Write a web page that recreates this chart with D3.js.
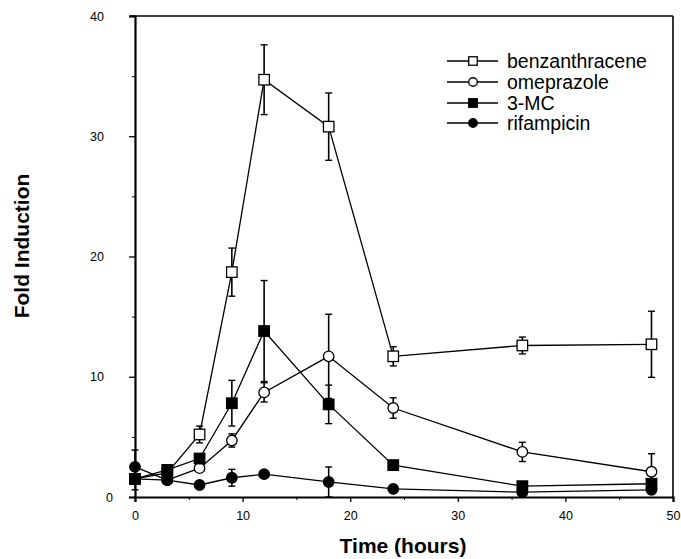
<!DOCTYPE html>
<html>
<head>
<meta charset="utf-8">
<script src="https://cdn.jsdelivr.net/npm/d3@7/dist/d3.min.js"></script>
<style>
  html, body { margin: 0; padding: 0; background: #fff; }
  svg { display: block; }
  text { font-family: "Liberation Sans", Arial, Helvetica, sans-serif; fill: #000; }
</style>
</head>
<body>
<svg id="chart" width="681" height="559"></svg>
<script>
// ---- data ----
const times = [0, 3, 6, 9, 12, 18, 24, 36, 48];

const benzanthracene    = [1.5, 2.0, 5.2, 18.7, 34.7, 30.8, 11.7, 12.6, 12.7];
const benzanthraceneErr = [0, 0.3, 0.7, 2.0, 2.9, 2.8, 0.8, 0.7, 2.75];

const omeprazole    = [1.5, 1.4, 2.4, 4.7, 8.7, 11.7, 7.4, 3.75, 2.1];
const omeprazoleErr = [0, 0.2, 0.3, 0.55, 0.8, 3.5, 0.85, 0.8, 1.5];

const mc3    = [1.5, 2.25, 3.2, 7.8, 13.8, 7.7, 2.65, 0.9, 1.1];
const mc3Err = [0.9, 0.3, 0.4, 1.9, 4.2, 1.6, 0.3, 0.2, 0.2];

const rifampicin    = [2.5, 1.4, 1.0, 1.6, 1.9, 1.25, 0.67, 0.4, 0.6];
const rifampicinErr = [1.4, 0.2, 0.2, 0.7, 0.2, 1.25, 0.2, 0.2, 0.2];

const seriesNames = ["benzanthracene", "omeprazole", "3-MC", "rifampicin"];
const xTicks = [0, 10, 20, 30, 40, 50];
const xMinorTicks = [5, 15, 25, 35, 45];
const yTicks = [0, 10, 20, 30, 40];
const yMinorTicks = [5, 15, 25, 35];

// ---- setup ----
const series = [
  { name: seriesNames[0], values: benzanthracene, err: benzanthraceneErr, shape: "square", fill: "#fff" },
  { name: seriesNames[1], values: omeprazole, err: omeprazoleErr, shape: "circle", fill: "#fff" },
  { name: seriesNames[2], values: mc3, err: mc3Err, shape: "square", fill: "#000" },
  { name: seriesNames[3], values: rifampicin, err: rifampicinErr, shape: "circle", fill: "#000" }
];

const svg = d3.select("#chart");
const L = 135, R = 673, T = 16, B = 497;

const x = d3.scaleLinear().domain([0, 50]).range([L, R]);
const y = d3.scaleLinear().domain([0, 40]).range([B, T]);

// frame top/right
svg.append("line").attr("x1", L - 5).attr("x2", R).attr("y1", T).attr("y2", T)
  .attr("stroke", "#000").attr("stroke-width", 1.6);
svg.append("line").attr("x1", R).attr("x2", R).attr("y1", T).attr("y2", B)
  .attr("stroke", "#000").attr("stroke-width", 1.6);

// y axis
const yAxisG = svg.append("g").attr("transform", `translate(${L},0)`)
  .call(d3.axisLeft(y).tickValues(yTicks).tickSize(6).tickPadding(25).tickFormat(d3.format("d")));
yAxisG.select(".domain").attr("stroke-width", 2.2);
yAxisG.selectAll(".tick line").attr("stroke-width", 1.3);
yAxisG.selectAll(".tick text").style("font-size", "12.5px")
  .attr("font-family", "Liberation Sans, Arial, sans-serif")
  .attr("x", d => d === 0 ? -22 : -31);
svg.append("g").attr("transform", `translate(${L},0)`)
  .call(d3.axisLeft(y).tickValues(yMinorTicks).tickSize(3).tickFormat(""))
  .call(g => g.select(".domain").remove());

// x axis
const xAxisG = svg.append("g").attr("transform", `translate(0,${B})`)
  .call(d3.axisBottom(x).tickValues(xTicks).tickSize(5).tickPadding(9).tickFormat(d3.format("d")));
xAxisG.select(".domain").attr("stroke-width", 2.2);
xAxisG.selectAll(".tick line").attr("stroke-width", 1.3);
xAxisG.selectAll(".tick text").style("font-size", "12.5px")
  .attr("font-family", "Liberation Sans, Arial, sans-serif");
svg.append("g").attr("transform", `translate(0,${B})`)
  .call(d3.axisBottom(x).tickValues(xMinorTicks).tickSize(3).tickFormat(""))
  .call(g => g.select(".domain").remove());

// axis titles
svg.append("text").attr("transform", "translate(29,246) rotate(-90)")
  .attr("text-anchor", "middle").style("font-size", "21px").style("font-weight", "bold")
  .text("Fold  Induction");
svg.append("text").attr("x", 403).attr("y", 553)
  .attr("text-anchor", "middle").style("font-size", "21px").style("font-weight", "bold")
  .text("Time (hours)");

// series
const line = d3.line().x((d, i) => x(times[i])).y(d => y(d));
const capW = 3.5;

function drawMarker(g, shape, fill, cx, cy, size) {
  if (shape === "square") {
    g.append("rect").attr("x", cx - size / 2).attr("y", cy - size / 2)
      .attr("width", size).attr("height", size)
      .attr("fill", fill).attr("stroke", "#000").attr("stroke-width", 1.3);
  } else {
    g.append("circle").attr("cx", cx).attr("cy", cy).attr("r", size / 2)
      .attr("fill", fill).attr("stroke", "#000").attr("stroke-width", 1.3);
  }
}

series.forEach(s => {
  const g = svg.append("g");
  // error bars
  s.values.forEach((v, i) => {
    const e = s.err[i];
    if (e <= 0) return;
    const cx = x(times[i]);
    const y1 = y(v + e), y2 = y(Math.max(0, v - e));
    g.append("line").attr("x1", cx).attr("x2", cx).attr("y1", y1).attr("y2", y2)
      .attr("stroke", "#000").attr("stroke-width", 1.6);
    [y1, y2].forEach(yy => g.append("line")
      .attr("x1", cx - capW).attr("x2", cx + capW).attr("y1", yy).attr("y2", yy)
      .attr("stroke", "#000").attr("stroke-width", 1.4));
  });
  g.append("path").datum(s.values).attr("d", line)
    .attr("fill", "none").attr("stroke", "#000").attr("stroke-width", 1.3);
  s.values.forEach((v, i) => drawMarker(g, s.shape, s.fill, x(times[i]), y(v), 10.5));
});

// legend
const legendY = [61, 82, 103, 123];
series.forEach((s, i) => {
  const g = svg.append("g");
  const ly = legendY[i];
  g.append("line").attr("x1", 447).attr("x2", 498).attr("y1", ly).attr("y2", ly)
    .attr("stroke", "#000").attr("stroke-width", 1.3);
  drawMarker(g, s.shape, s.fill, 473, ly, 8.5);
  g.append("text").attr("x", 507).attr("y", ly + 6.5)
    .style("font-size", "19.5px").text(s.name);
});
</script>
</body>
</html>
